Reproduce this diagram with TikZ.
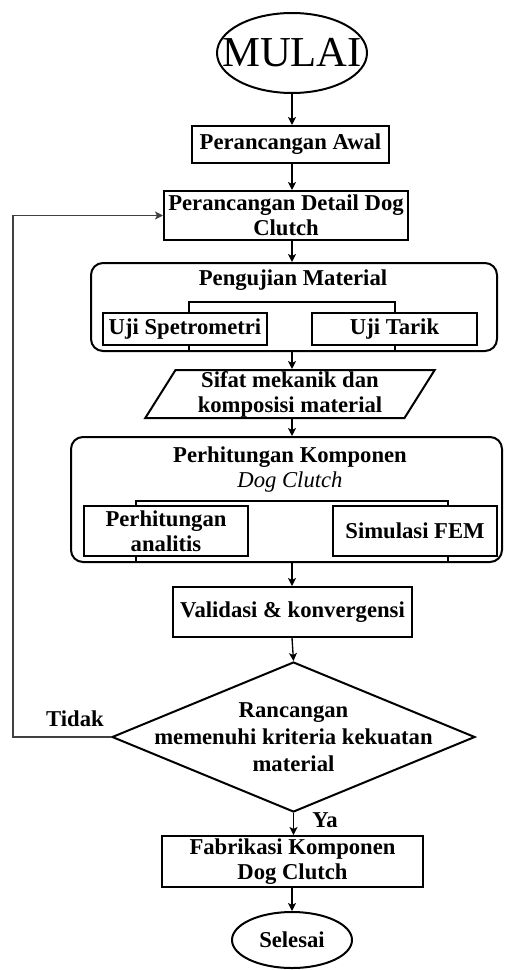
\documentclass[tikz,border=0pt]{standalone}
\usepackage{fontspec}
\setmainfont{Liberation Serif}
\usetikzlibrary{shapes.geometric,arrows.meta}

\begin{document}
\begin{tikzpicture}
                [x=0.75pt, y=-0.75pt,
                 box/.style={draw, line width=1.5pt, inner sep=0pt, align=center, font=\fontsize{17}{18.75}\selectfont\bfseries},
                 group/.style={draw, line width=1.5pt, rounded corners=9pt, inner sep=0pt},
                 heading/.style={inner sep=0pt, align=center, font=\fontsize{17}{18.75}\selectfont\bfseries},
                 io/.style={box, trapezium, trapezium left angle=62, trapezium right angle=118, trapezium stretches=true},
                 decision/.style={draw, diamond, line width=1.5pt, inner sep=0pt},
                 terminal/.style={draw, ellipse, line width=1.5pt, inner sep=0pt},
                 flow/.style={draw, line width=1pt, -{Stealth[length=6pt, width=6pt, inset=1.5pt]}},
                 tie/.style={draw, line width=1pt}]
                \useasboundingbox (0,0) rectangle (504,970);
                % Define nodes
                \node[terminal, minimum width=112.5pt, minimum height=60pt, font=\fontsize{32}{36}\selectfont] (mulai) at (292,53) {\makebox[0pt]{MULAI}};
                \node[box, minimum width=147.75pt, minimum height=27.75pt] (awal) at (290.5,144.5) {Perancangan Awal};
                \node[box, minimum width=183pt, minimum height=36.75pt] (detail) at (286,215.5) {Perancangan Detail Dog\\Clutch};
                \node[group, minimum width=304.5pt, minimum height=66pt] (uji) at (294,307) {};
                \node[heading] (ujititle) at (293,280) {Pengujian Material};
                \node[box, minimum width=123pt, minimum height=24pt] (spektro) at (185,329) {Uji Spetrometri};
                \node[box, minimum width=123.75pt, minimum height=24pt] (tarik) at (394.5,329) {Uji Tarik};
                \node[io, minimum width=217.5pt, minimum height=36pt] (sifat) at (290,394) {Sifat mekanik dan\\komposisi material};
                \node[group, minimum width=323.25pt, minimum height=93.75pt] (hitung) at (286.5,499.5) {};
                \node[heading] (hitungtitle) at (290,470) {Perhitungan Komponen\\{\mdseries\itshape Dog Clutch}};
                \node[box, minimum width=123pt, minimum height=37.5pt] (analitis) at (166,531) {Perhitungan\\analitis};
                \node[box, minimum width=123pt, minimum height=37.5pt] (fem) at (415,530.5) {Simulasi FEM};
                \node[box, minimum width=179.25pt, minimum height=37.5pt] (validasi) at (292.5,612) {Validasi \& konvergensi};
                \node[decision, minimum width=272.25pt, minimum height=112.5pt] (cek) at (293.5,737) {};
                \node[heading, font=\fontsize{17}{20.25}\selectfont\bfseries] (cektext) at (cek) {Rancangan\\memenuhi kriteria kekuatan\\material};
                \node[box, minimum width=195.75pt, minimum height=38.25pt] (fabrikasi) at (292.5,861.5) {Fabrikasi Komponen\\Dog Clutch};
                \node[terminal, minimum width=90pt, minimum height=42pt, font=\fontsize{17}{18.75}\selectfont\bfseries] (selesai) at (292,940) {\makebox[0pt]{Selesai}};
                \node[heading] (tidak) at (75,719) {Tidak};
                \node[heading] (ya) at (325,820) {Ya};
                \coordinate (ujiL) at (189,302);
                \coordinate (ujiR) at (395,302);
                \coordinate (hitungL) at (136,501);
                \coordinate (hitungR) at (448,501);
                \coordinate (balik) at (13,737);
                % Define edges
                \draw[tie] (spektro.north -| ujiL) -- (ujiL) -- (ujiR) -- (tarik.north -| ujiR);
                \draw[tie] (spektro.south -| ujiL) -- (uji.south -| ujiL);
                \draw[tie] (tarik.south -| ujiR) -- (uji.south -| ujiR);
                \draw[tie] (analitis.north -| hitungL) -- (hitungL) -- (hitungR) -- (fem.north -| hitungR);
                \draw[tie] (analitis.south -| hitungL) -- (hitung.south -| hitungL);
                \draw[tie] (fem.south -| hitungR) -- (hitung.south -| hitungR);
                \draw[flow] (mulai) -- (awal.north -| mulai);
                \draw[flow] (awal.south -| mulai) -- (detail.north -| mulai);
                \draw[flow] (detail.south -| mulai) -- (uji.north -| mulai);
                \draw[flow] (uji.south -| mulai) -- (sifat.north -| mulai);
                \draw[flow] (sifat.south -| mulai) -- (hitung.north -| mulai);
                \draw[flow] (hitung.south -| mulai) -- (validasi.north -| mulai);
                \draw[flow] (validasi.south -| mulai) -- (cek.north);
                \draw[flow] (cek.south) -- (fabrikasi.north -| cek);
                \draw[flow] (fabrikasi.south -| mulai) -- (selesai);
                \draw[flow, draw=black!75] (cek.west) -- (balik) |- (detail.west);
            \end{tikzpicture}
\end{document}
